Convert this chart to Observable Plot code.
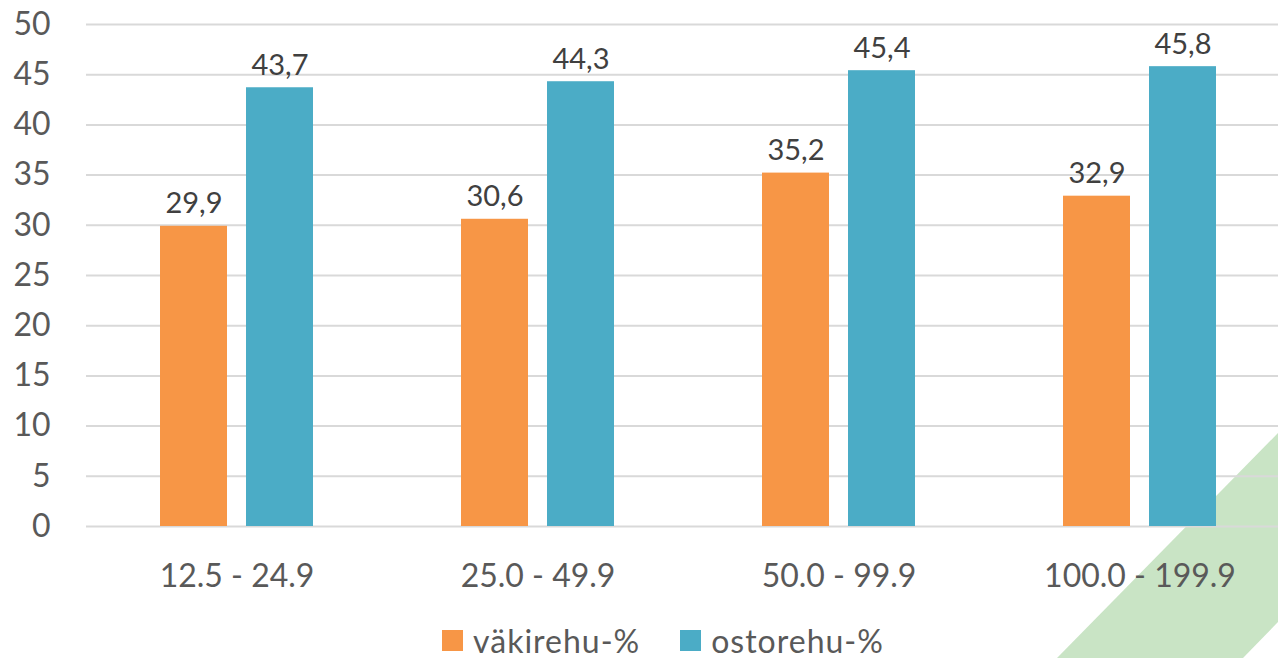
<!DOCTYPE html>
<html>
<head>
<meta charset="utf-8">
<script src="https://cdn.jsdelivr.net/npm/d3@7"></script>
<script src="https://cdn.jsdelivr.net/npm/@observablehq/plot@0.6"></script>
<style>
  html, body { margin: 0; padding: 0; background: #fff; width: 1278px; height: 658px; overflow: hidden; position: relative; font-family: Lato, "Open Sans", sans-serif; }
  #deco { position: absolute; left: 0; top: 0; width: 1278px; height: 658px; z-index: 0;
    background: #c9e4c5;
    clip-path: polygon(1278px 433px, 1278px 622px, 1243px 658px, 1057px 658px); }
  #chart { position: absolute; left: 0; top: 0; z-index: 1; }
  #chart svg { max-width: none !important; }
  #legend { position: absolute; left: 24px; top: 621px; width: 1278px; display: flex; justify-content: center; gap: 40px; font-size: 32px; letter-spacing: 1px; color: #595959; z-index: 1; }
  .item { display: flex; align-items: center; gap: 10px; }
  .sw { width: 21px; height: 21px; display: inline-block; }
</style>
</head>
<body>
<div id="deco"></div>
<div id="chart"></div>
<div id="legend"></div>
<script>
const categories = ["12.5 - 24.9", "25.0 - 49.9", "50.0 - 99.9", "100.0 - 199.9"];
const series = ["väkirehu-%", "ostorehu-%"];
const vakirehu = [29.9, 30.6, 35.2, 32.9];
const ostorehu = [43.7, 44.3, 45.4, 45.8];
const yTicks = [0, 5, 10, 15, 20, 25, 30, 35, 40, 45, 50];
const colors = ["#f79646", "#4bacc6"];

const data = [];
categories.forEach((c, i) => {
  data.push({cat: c, series: series[0], value: vakirehu[i]});
  data.push({cat: c, series: series[1], value: ostorehu[i]});
});
const fmt = v => v.toFixed(1).replace(".", ",");

const plot = Plot.plot({
  width: 1290,
  height: 600,
  marginLeft: 86,
  marginRight: 0,
  marginTop: 24,
  marginBottom: 74,
  style: {fontFamily: "Lato, 'Open Sans', sans-serif", color: "#595959", background: "transparent", overflow: "visible", maxWidth: "none"},
  fx: {domain: categories, padding: 0, label: null, axis: null},
  x: {domain: series, paddingInner: 0.221, paddingOuter: 0.86, axis: null, label: null},
  y: {domain: [0, 50], ticks: yTicks, label: null, axis: null},
  color: {domain: series, range: colors},
  marks: [
    Plot.ruleY(yTicks, {stroke: "#d9d9d9", strokeWidth: 2}),
    Plot.axisY({ticks: yTicks, tickSize: 0, tickPadding: 0, dx: -36, fontSize: 32, fill: "#595959", tickFormat: d => String(d), facetAnchor: "left"}),
    Plot.barY(data, {fx: "cat", x: "series", y: "value", fill: "series"}),
    Plot.text(data, {fx: "cat", x: "series", y: "value", text: d => fmt(d.value), lineAnchor: "bottom", dy: -13, fontSize: 29, letterSpacing: "1px", fill: "#404040"}),
    Plot.axisFx({anchor: "bottom", tickSize: 0, tickPadding: 38, fontSize: 32, letterSpacing: "0.6px", fill: "#595959", label: null})
  ]
});
document.getElementById("chart").appendChild(plot);

const leg = document.getElementById("legend");
series.forEach((s, i) => {
  const it = document.createElement("div");
  it.className = "item";
  it.innerHTML = `<span class="sw" style="background:${colors[i]}"></span><span>${s}</span>`;
  leg.appendChild(it);
});
</script>
</body>
</html>
